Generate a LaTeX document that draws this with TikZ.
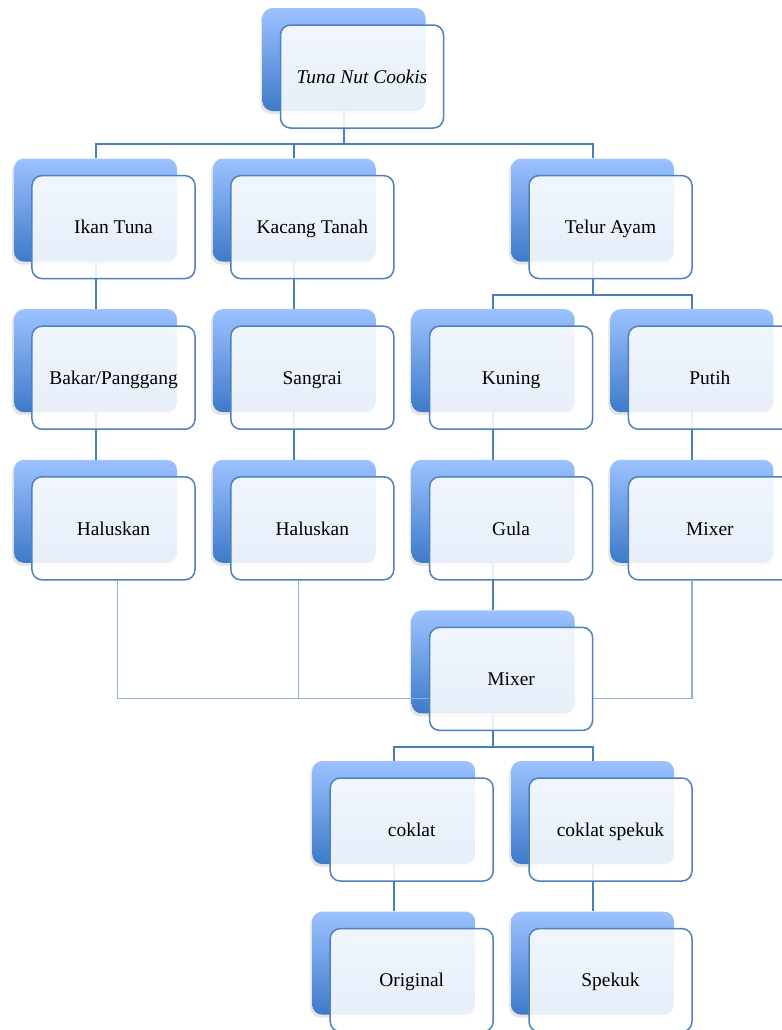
\documentclass[tikz,border=0pt]{standalone}
\usepackage{xcolor}
\usepackage{fontspec}
\setmainfont{Liberation Serif}
\usepackage{tikz}
\usetikzlibrary{shapes}
\usetikzlibrary{positioning}
\usetikzlibrary{calc}
\usetikzlibrary{shadows}
\definecolor{boxtop}{HTML}{9CC2FF}
\definecolor{boxbot}{HTML}{3D7AC9}
\definecolor{boxline}{HTML}{4F81BD}
\definecolor{linkline}{HTML}{4A7EBB}
\definecolor{joinline}{HTML}{8DB0DC}
\pgfdeclarelayer{paper}
\pgfdeclarelayer{bg}
\pgfdeclarelayer{lines}
\pgfsetlayers{paper,bg,lines,main}

\begin{document}
\begin{tikzpicture}[
  x=1bp, y=-1bp,
  back/.style={
    rectangle,
    rounded corners=10bp,
    minimum width=163bp,
    minimum height=103bp,
    top color=boxtop,
    bottom color=boxbot,
    drop shadow={shadow xshift=-2bp, shadow yshift=-3bp, opacity=0.2}},
  front/.style={
    rectangle,
    rounded corners=10bp,
    minimum width=163bp,
    minimum height=103bp,
    draw=boxline,
    line width=1.5bp,
    fill=white,
    fill opacity=0.88,
    text opacity=1,
    text=black,
    text height=14bp,
    text depth=0.5bp,
    font=\fontsize{19.5}{23}\selectfont},
  link/.style={
    draw=linkline, line width=2bp
  },
  mixlink/.style={
    draw=joinline, line width=1.2bp
  },
]

  \def\colstep{99.4}%
  \def\rowstep{150.6}%
  \def\xbase{95.5}%
  \def\ybase{59.5}%

  \useasboundingbox (0,0) rectangle (782,1030);
  \begin{pgfonlayer}{paper}
    \fill[white] (0,0) rectangle (782,1030);
  \end{pgfonlayer}

    % Boxes: back plate and front card
  \foreach \nm/\col/\row/\txt in {
      root/2.5/0/{\textit{Tuna Nut Cookis}},
      ikan/0/1/{Ikan Tuna}, kacang/2/1/{Kacang Tanah}, telur/5/1/{Telur Ayam},
      bakar/0/2/{Bakar/Panggang}, sangrai/2/2/{Sangrai},
      kuning/4/2/{Kuning}, putih/6/2/{Putih},
      halusa/0/3/{Haluskan}, halusb/2/3/{Haluskan},
      gula/4/3/{Gula}, mixputih/6/3/{Mixer},
      mixer/4/4/{Mixer},
      coklat/3/5/{coklat}, cokspek/5/5/{coklat spekuk},
      original/3/6/{Original}, spekuk/5/6/{Spekuk}} {
    \begin{pgfonlayer}{bg}
      \node[back] (b\nm) at (\xbase+\colstep*\col, \ybase+\rowstep*\row) {};
    \end{pgfonlayer}
    \node[front] (\nm) at ($(b\nm)+(18,17)$) {\txt};
  }

    % Tree links
  \begin{pgfonlayer}{lines}
    \foreach \src/\dst in {root/ikan, root/kacang, root/telur,
        telur/kuning, telur/putih, mixer/coklat, mixer/cokspek} {
      \draw[link] (b\src.south) -- ++(0,33) -| (b\dst.north);
    }
    \foreach \src/\dst in {ikan/bakar, kacang/sangrai, bakar/halusa,
        sangrai/halusb, kuning/gula, putih/mixputih, gula/mixer,
        coklat/original, cokspek/spekuk} {
      \draw[link] (b\src.south) -- (b\dst.north);
    }

    % Joining lines into the mixer
    \coordinate (mixjoin) at ([shift={(8,19.5)}]mixer.west);
    \draw[mixlink] ([xshift=4bp]halusa.south) |- (mixjoin);
    \draw[mixlink] ([xshift=-14bp]halusb.south)
        -- ([xshift=-14bp]halusb.south |- mixjoin);
    \draw[mixlink] ([xshift=-18bp]mixputih.south)
        |- ([shift={(-3,19.5)}]mixer.east);
  \end{pgfonlayer}

\end{tikzpicture}
\end{document}
